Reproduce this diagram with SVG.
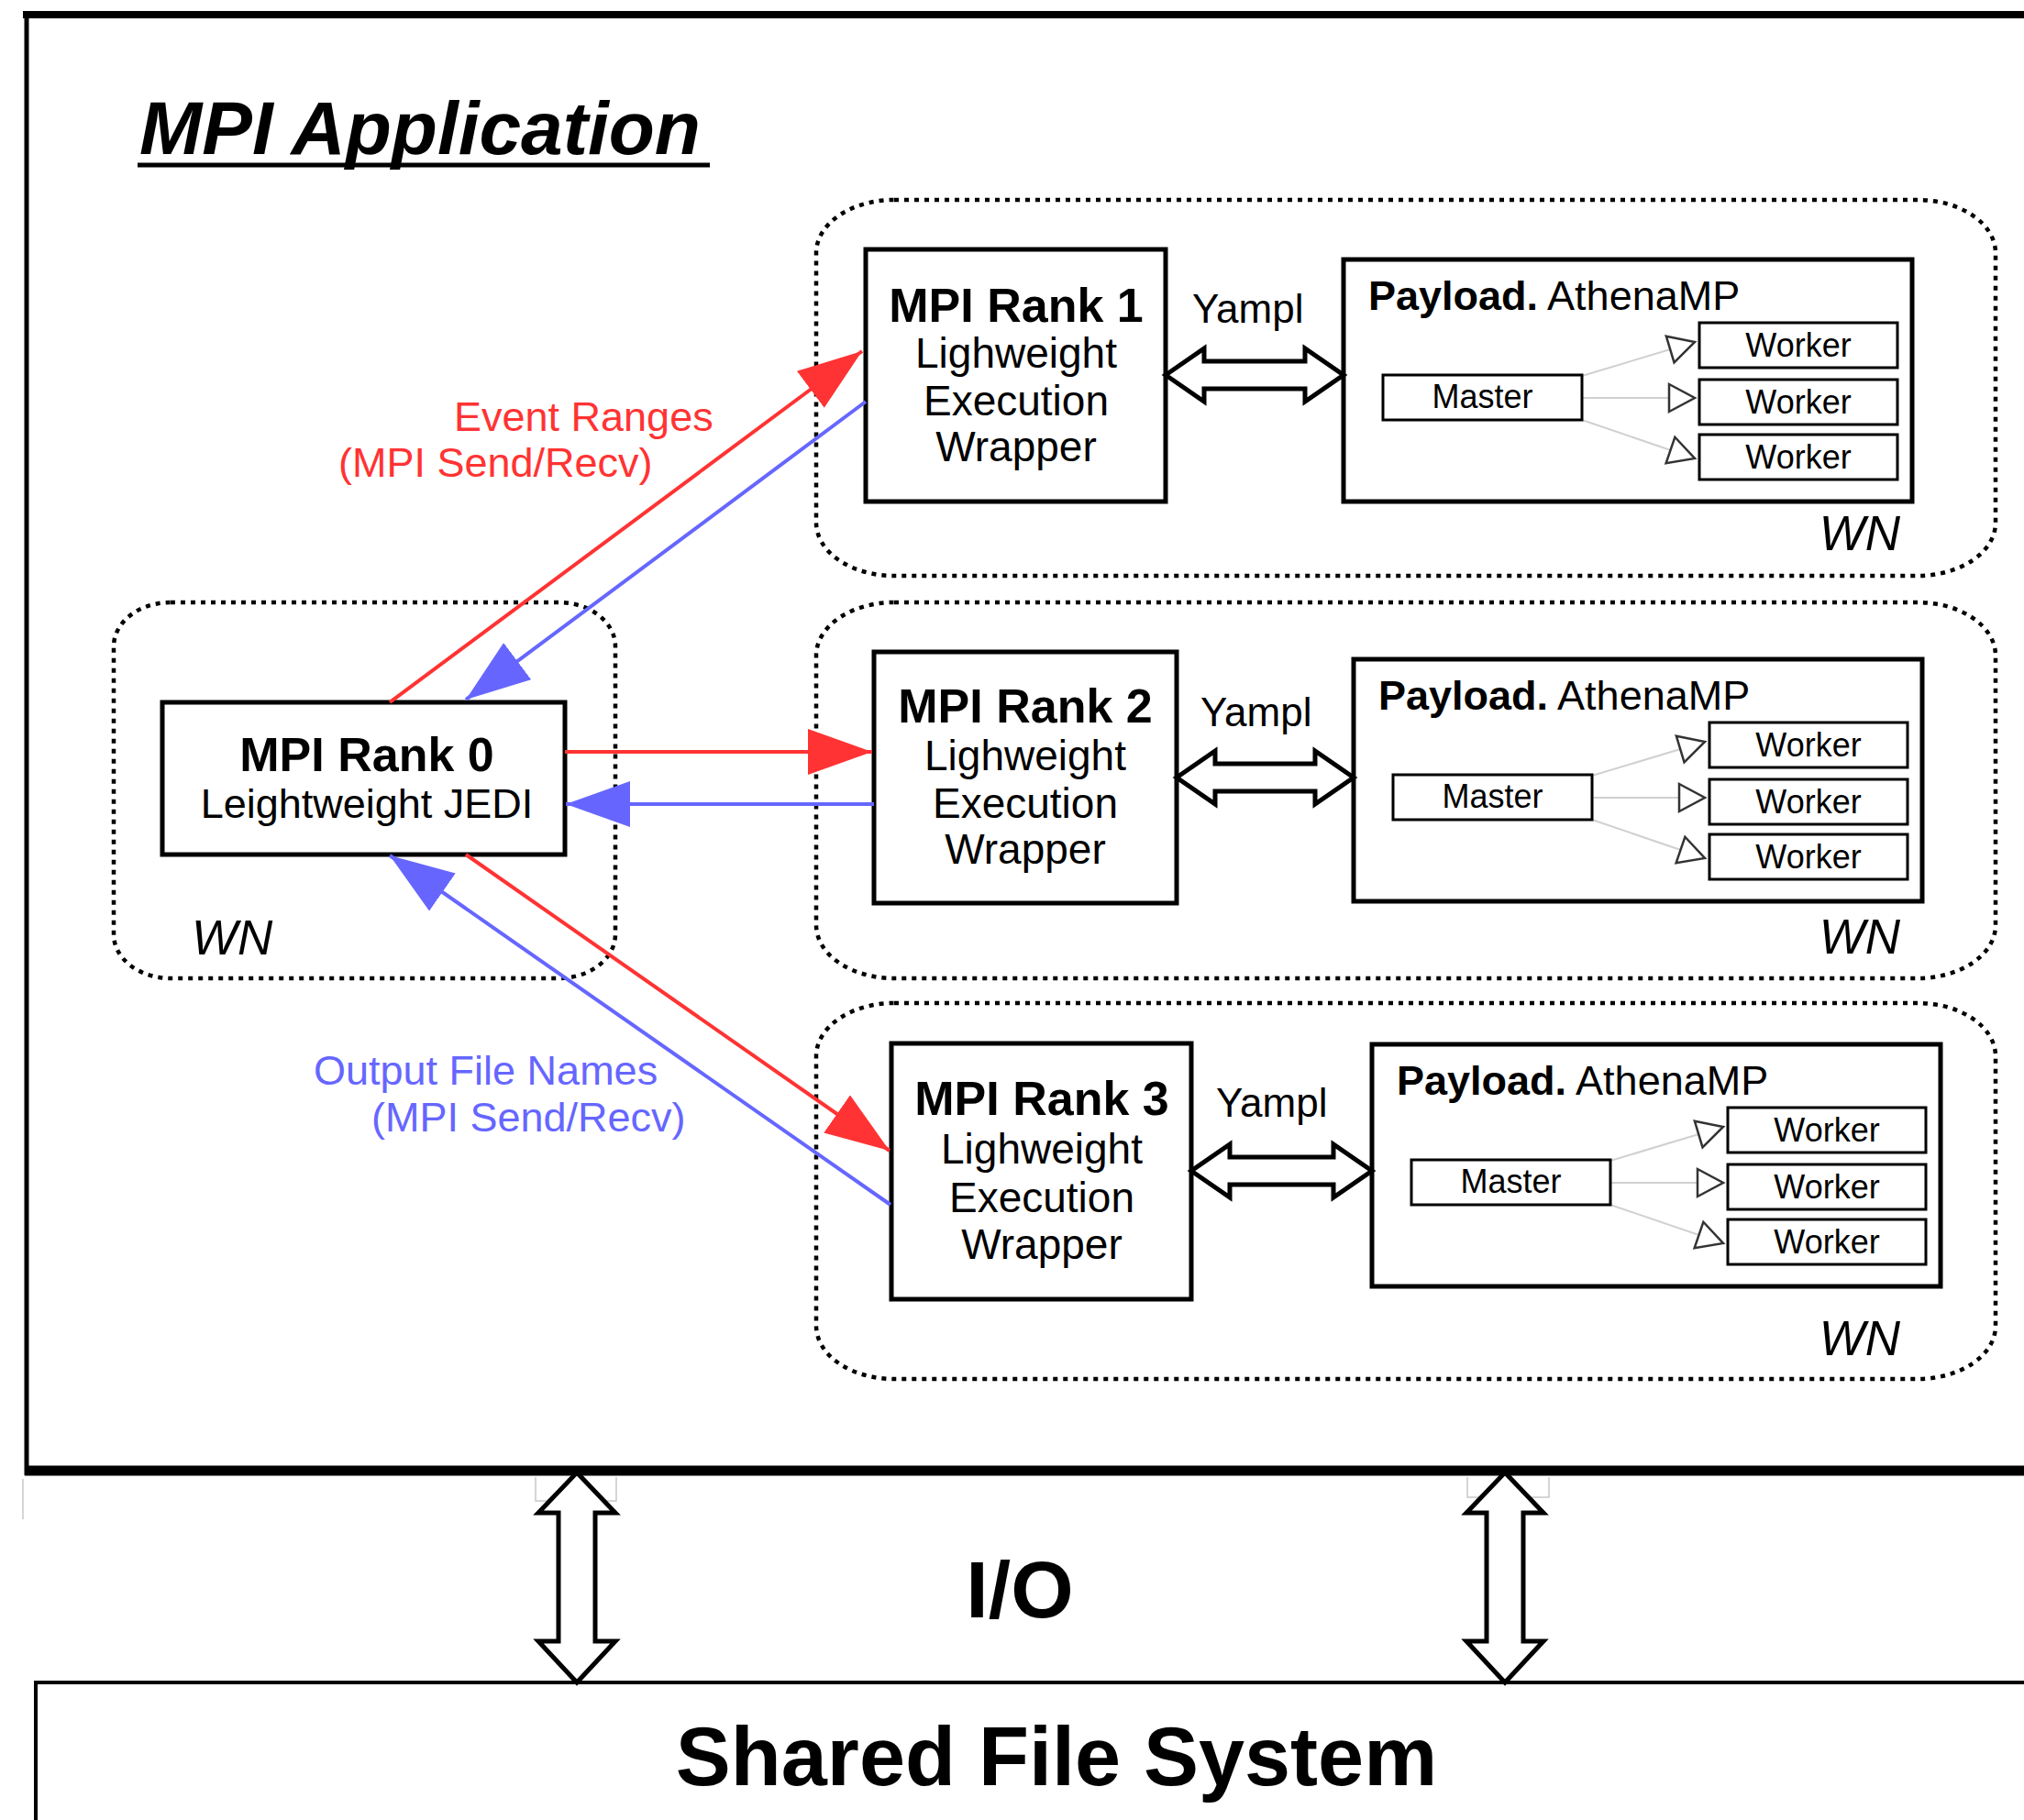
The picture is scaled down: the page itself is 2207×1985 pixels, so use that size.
<svg xmlns="http://www.w3.org/2000/svg" width="2207" height="1985" viewBox="0 0 2207 1985">
<style>
text{font-family:"Liberation Sans",Arial,sans-serif;fill:#000}
.wn{fill:none;stroke:#000;stroke-width:4.5;stroke-dasharray:5 6}
.box{fill:#fff;stroke:#000;stroke-width:5}
.sbox{fill:#fff;stroke:#000;stroke-width:3}
.h{font-size:52px;font-weight:bold;text-anchor:middle}
.r{font-size:46px;text-anchor:middle}
.wnl{font-size:53px;font-style:italic}
.ya{font-size:44px}
.pl{font-size:45px}
.sm{font-size:36px;text-anchor:middle}
.dbl{fill:#fff;stroke:#000;stroke-width:5;stroke-linejoin:miter}
.gl{stroke:#d0d0d0;stroke-width:2;fill:none}
.red{stroke:#ff3333;stroke-width:4;fill:none}
.blue{stroke:#6666ff;stroke-width:4;fill:none}
.lr{font-size:45px;fill:#ff3333}
.lb{font-size:45px;fill:#6666ff}
.art{fill:none;stroke:#c8c8c8;stroke-width:1.5}
</style>
<defs>
<marker id="ar" markerUnits="userSpaceOnUse" markerWidth="72" markerHeight="52" refX="70" refY="25" orient="auto"><path d="M0,0 L70,25 L0,50 z" fill="#ff3333"/></marker>
<marker id="ab" markerUnits="userSpaceOnUse" markerWidth="72" markerHeight="52" refX="70" refY="25" orient="auto"><path d="M0,0 L70,25 L0,50 z" fill="#6666ff"/></marker>
<marker id="tri" markerUnits="userSpaceOnUse" markerWidth="36" markerHeight="40" refX="31" refY="18" orient="auto"><path d="M3,3 L31,18 L3,33 z" fill="#fff" stroke="#333" stroke-width="2.5"/></marker>
<g id="payloadTpl">
<rect class="box" x="0" y="0" width="620" height="264"/>
<text x="27" y="55" class="pl"><tspan font-weight="bold">Payload.</tspan> AthenaMP</text>
<line class="gl" x1="260" y1="127" x2="383" y2="90" marker-end="url(#tri)"/>
<line class="gl" x1="260" y1="151" x2="383" y2="151" marker-end="url(#tri)"/>
<line class="gl" x1="260" y1="175" x2="383" y2="217" marker-end="url(#tri)"/>
<rect class="sbox" x="43" y="126" width="217" height="49"/>
<text x="151.5" y="162" class="sm">Master</text>
<rect class="sbox" x="388" y="69" width="216" height="49"/>
<text x="496" y="106" class="sm">Worker</text>
<rect class="sbox" x="388" y="131" width="216" height="49"/>
<text x="496" y="168" class="sm">Worker</text>
<rect class="sbox" x="388" y="191" width="216" height="49"/>
<text x="496" y="228" class="sm">Worker</text>
</g>
</defs>

<g id="frame">
<line x1="25" y1="16" x2="2210" y2="16" stroke="#000" stroke-width="8"/>
<line x1="29" y1="12" x2="29" y2="1609" stroke="#000" stroke-width="5"/>
<line x1="27" y1="1604" x2="2210" y2="1604" stroke="#000" stroke-width="11"/>
<line x1="25" y1="1613" x2="25" y2="1657" class="art"/>
<text x="152" y="168" font-size="82" font-weight="bold" font-style="italic">MPI Application</text>
<line x1="150" y1="180" x2="774" y2="180" stroke="#000" stroke-width="5"/>
</g>

<g id="wn0"><rect class="wn" x="124" y="657" width="547" height="410" rx="62" ry="48"/><text class="wnl" x="209" y="1041">WN</text></g>
<g id="wn1"><rect class="wn" x="890" y="218" width="1286" height="410" rx="85" ry="58"/><text class="wnl" x="2072" y="600" text-anchor="end">WN</text></g>
<g id="wn2"><rect class="wn" x="890" y="657" width="1286" height="410" rx="85" ry="58"/><text class="wnl" x="2072" y="1040" text-anchor="end">WN</text></g>
<g id="wn3"><rect class="wn" x="890" y="1094" width="1286" height="410" rx="85" ry="58"/><text class="wnl" x="2072" y="1478" text-anchor="end">WN</text></g>

<g id="rank0"><rect class="box" x="177" y="766" width="439" height="166"/>
<text class="h" x="400" y="841">MPI Rank 0</text>
<text x="400" y="892" font-size="45" text-anchor="middle">Leightweight JEDI</text></g>

<g id="rank1"><rect class="box" x="944" y="272" width="327" height="275"/>
<text class="h" x="1108" y="351">MPI Rank 1</text>
<text class="r" x="1108" y="401">Lighweight</text>
<text class="r" x="1108" y="453">Execution</text>
<text class="r" x="1108" y="503">Wrapper</text></g>

<g id="rank2"><rect class="box" x="953" y="711" width="330" height="274"/>
<text class="h" x="1118" y="788">MPI Rank 2</text>
<text class="r" x="1118" y="840">Lighweight</text>
<text class="r" x="1118" y="892">Execution</text>
<text class="r" x="1118" y="942">Wrapper</text></g>

<g id="rank3"><rect class="box" x="972" y="1138" width="327" height="279"/>
<text class="h" x="1136" y="1216">MPI Rank 3</text>
<text class="r" x="1136" y="1269">Lighweight</text>
<text class="r" x="1136" y="1322">Execution</text>
<text class="r" x="1136" y="1373">Wrapper</text></g>

<g id="payload1"><use href="#payloadTpl" transform="translate(1465,283)"/></g>
<g id="payload2"><use href="#payloadTpl" transform="translate(1476,719)"/></g>
<g id="payload3"><use href="#payloadTpl" transform="translate(1496,1139)"/></g>

<g id="yampl">
<polygon class="dbl" points="1271,409 1313,380 1313,394 1423,394 1423,380 1465,409 1423,438 1423,424 1313,424 1313,438"/>
<text class="ya" x="1300" y="352">Yampl</text>
<polygon class="dbl" points="1283,848 1325,819 1325,833 1434,833 1434,819 1476,848 1434,877 1434,863 1325,863 1325,877"/>
<text class="ya" x="1309" y="792">Yampl</text>
<polygon class="dbl" points="1299,1277 1341,1248 1341,1262 1454,1262 1454,1248 1496,1277 1454,1306 1454,1292 1341,1292 1341,1306"/>
<text class="ya" x="1326" y="1218">Yampl</text>
</g>

<g id="connectors">
<line class="red" x1="425" y1="766" x2="940" y2="383" marker-end="url(#ar)"/>
<line class="blue" x1="944" y1="438" x2="508" y2="763" marker-end="url(#ab)"/>
<line class="red" x1="616" y1="820" x2="951" y2="820" marker-end="url(#ar)"/>
<line class="blue" x1="953" y1="877" x2="617" y2="877" marker-end="url(#ab)"/>
<line class="red" x1="508" y1="932" x2="970" y2="1255" marker-end="url(#ar)"/>
<line class="blue" x1="971" y1="1314" x2="425" y2="933" marker-end="url(#ab)"/>
<text class="lr" x="495" y="470">Event Ranges</text>
<text class="lr" x="369" y="520">(MPI Send/Recv)</text>
<text class="lb" x="342" y="1183">Output File Names</text>
<text class="lb" x="405" y="1234">(MPI Send/Recv)</text>
</g>

<g id="io">
<polyline class="art" points="584,1611 584,1637 605,1637"/>
<polyline class="art" points="672,1611 672,1637 652,1637"/>
<polyline class="art" points="1600,1611 1600,1633 1615,1633"/>
<polyline class="art" points="1689,1611 1689,1633 1670,1633"/>
<polygon class="dbl" stroke-width="4" points="629,1606 671,1650 649,1650 649,1790 671,1790 629,1835 587,1790 609,1790 609,1650 587,1650"/>
<polygon class="dbl" stroke-width="4" points="1641,1606 1683,1650 1661,1650 1661,1790 1683,1790 1641,1835 1599,1790 1621,1790 1621,1650 1599,1650"/>
<text x="1112" y="1764" font-size="88" font-weight="bold" text-anchor="middle">I/O</text>
</g>

<g id="sfs">
<path d="M39,1990 L39,1835 L2212,1835" fill="none" stroke="#000" stroke-width="4"/>
<text x="1152" y="1947" font-size="90" font-weight="bold" text-anchor="middle">Shared File System</text>
</g>
</svg>
